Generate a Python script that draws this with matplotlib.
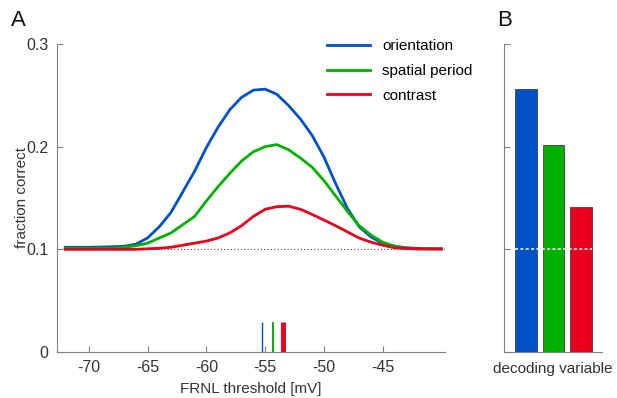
import numpy as np
import matplotlib.pyplot as plt

# threshold axis [mV]
thresh = np.arange(-72, -39, 1)

orientation = [0.102, 0.102, 0.102, 0.1022, 0.1025, 0.103, 0.105, 0.111, 0.122, 0.136,
               0.156, 0.176, 0.199, 0.219, 0.236, 0.248, 0.255, 0.256, 0.251, 0.240,
               0.227, 0.211, 0.190, 0.164, 0.140, 0.122, 0.112, 0.106, 0.103, 0.1015,
               0.101, 0.1005, 0.1005]
spatial = [0.101, 0.101, 0.101, 0.101, 0.101, 0.102, 0.1035, 0.106, 0.111, 0.116,
           0.124, 0.132, 0.147, 0.161, 0.174, 0.186, 0.195, 0.200, 0.202, 0.197,
           0.189, 0.180, 0.167, 0.152, 0.137, 0.123, 0.114, 0.107, 0.103, 0.101,
           0.1005, 0.1005, 0.1005]
contrast = [0.100, 0.100, 0.100, 0.100, 0.100, 0.100, 0.100, 0.1005, 0.101, 0.102,
            0.104, 0.106, 0.108, 0.111, 0.116, 0.123, 0.132, 0.139, 0.1415, 0.142,
            0.139, 0.134, 0.1285, 0.123, 0.117, 0.111, 0.107, 0.104, 0.1015, 0.1008,
            0.1003, 0.1003, 0.1003]

# best thresholds and peak performance
labels = ['orientation', 'spatial period', 'contrast']
best_thresh = [-55.3, -54.3, -53.5]
peak_vals = [0.256, 0.2016, 0.1415]
chance = 0.1

colors = ['#0050c8', '#00b000', '#e8001c']
marker_lw = [1.0, 1.4, 3.5]
gray = '#808080'
txt = '#333333'

plt.rcParams['font.family'] = ['Liberation Sans', 'DejaVu Sans']
plt.rcParams['font.size'] = 11

fig = plt.figure(figsize=(6.17, 3.98), dpi=100)
axA = fig.add_axes([0.0924, 0.1156, 0.6288, 0.7739])
axB = fig.add_axes([0.8169, 0.1156, 0.1588, 0.7739])

# panel A
axA.plot([-72.7, -39.7], [chance, chance], ls=(0, (1, 2)), color='#444444', lw=0.8, zorder=1)
for ys, c, lab in zip([orientation, spatial, contrast], colors, labels):
    axA.plot(thresh, ys, color=c, lw=2.0, label=lab, zorder=2)
for bt, c, lw in zip(best_thresh, colors, marker_lw):
    axA.plot([bt, bt], [0, 0.029], color=c, lw=lw, solid_capstyle='butt')

axA.set_xlim(-72.7, -39.7)
axA.set_ylim(0, 0.3)
xt = [-70, -65, -60, -55, -50, -45]
axA.set_xticks(xt)
axA.set_xticklabels(['-%d' % abs(v) for v in xt])
axA.set_yticks([0, 0.1, 0.2, 0.3])
axA.set_yticklabels(['0', '0.1', '0.2', '0.3'])
axA.set_xlabel('FRNL threshold [mV]', color=txt, labelpad=5)
axA.set_ylabel('fraction correct', color=txt, labelpad=-2)
axA.legend(loc='upper left', bbox_to_anchor=(0.696, 1.015), frameon=False,
           borderpad=0, borderaxespad=0,
           handlelength=2.8, handletextpad=0.8, labelspacing=0.7, fontsize=11)

# panel B
xpos = [1, 2, 3]
axB.bar(xpos, peak_vals, width=0.79, color=colors, edgecolor='#404040', linewidth=0.6)
axB.plot([0.6, 3.4], [chance, chance], ls=(0, (2, 1.5)), color='white', lw=1.1, zorder=3)
axB.set_xlim(0.21, 3.76)
axB.set_ylim(0, 0.3)
axB.set_xticks([])
axB.set_yticks([0, 0.1, 0.2, 0.3])
axB.set_yticklabels([])
axB.set_xlabel('decoding variable', color=txt, labelpad=7, fontsize=11)

for ax in (axA, axB):
    for s in ['top', 'right']:
        ax.spines[s].set_visible(False)
    for s in ['left', 'bottom']:
        ax.spines[s].set_color(gray)
    ax.tick_params(direction='in', color=gray, labelcolor=txt, length=4, labelsize=11.5,
                   pad=6)

fig.text(0.018, 0.975, 'A', fontsize=16, color='#111111', va='top')
fig.text(0.805, 0.975, 'B', fontsize=16, color='#111111', va='top')

fig.savefig('out.png', dpi=100)
